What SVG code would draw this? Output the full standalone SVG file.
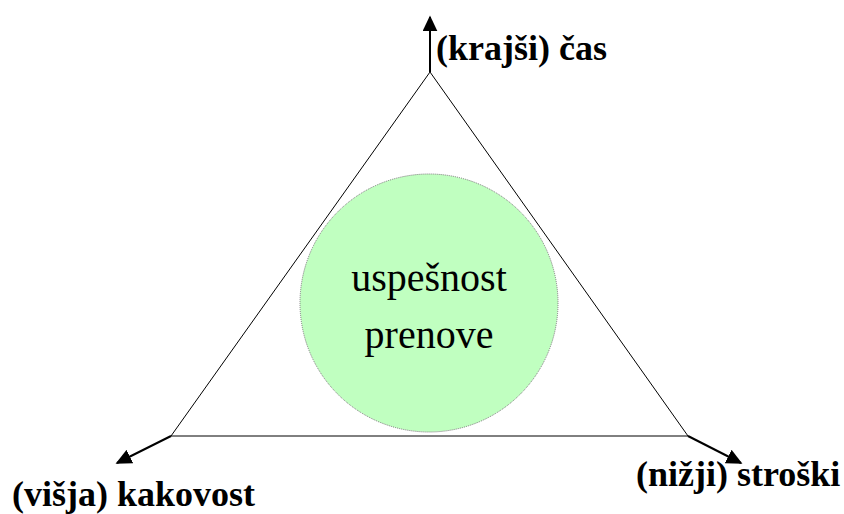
<svg xmlns="http://www.w3.org/2000/svg" width="844" height="514" viewBox="0 0 844 514" font-family="Liberation Serif, Times New Roman, serif">
<style>
.edge{fill:none;stroke:#000;stroke-width:1}
.arr{fill:none;stroke:#000;stroke-width:2}
.lbl{font-weight:bold;font-size:36px;fill:#000}
.ctr{font-size:40px;fill:#000;text-anchor:middle}
</style>
<defs>
<marker id="ah" viewBox="0 0 10 10" refX="9" refY="5" markerWidth="8" markerHeight="7.5" markerUnits="strokeWidth" orient="auto" preserveAspectRatio="none">
<path d="M0,0 L10,5 L0,10 z" fill="#000"/>
</marker>
</defs>
<rect width="844" height="514" fill="#fff"/>
<g id="triangle">
<polygon class="edge" points="430,72 171,436 688,436"/>
</g>
<g id="connectors">
<line class="arr" x1="430" y1="72" x2="430" y2="17" marker-end="url(#ah)"/>
<line class="arr" x1="171" y1="436" x2="117" y2="463" marker-end="url(#ah)"/>
<line class="arr" x1="688" y1="436" x2="741" y2="463" marker-end="url(#ah)"/>
</g>
<g id="center">
<circle cx="429" cy="303" r="129" fill="#c0ffc0" stroke="#777" stroke-width="1" stroke-dasharray="1,1"/>
<text class="ctr" x="429" y="291">uspešnost</text>
<text class="ctr" x="429" y="348">prenove</text>
</g>
<g id="cas">
<text class="lbl" x="436" y="60">(krajši) čas</text>
</g>
<g id="kakovost">
<text class="lbl" x="12" y="506">(višja) kakovost</text>
</g>
<g id="stroski">
<text class="lbl" x="636" y="486">(nižji) stroški</text>
</g>
</svg>
